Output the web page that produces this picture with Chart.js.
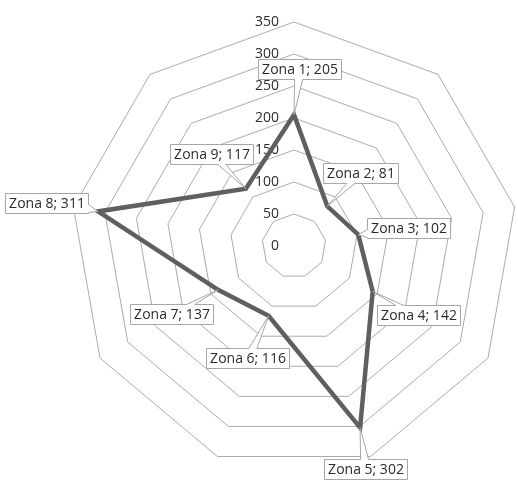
<!DOCTYPE html>
<html>
<head>
<meta charset="utf-8">
<script src="https://cdn.jsdelivr.net/npm/chart.js@4/dist/chart.umd.min.js"></script>
<style>
  html, body { margin: 0; padding: 0; background: #ffffff; }
  #wrap { width: 518px; height: 480px; overflow: hidden; }
</style>
</head>
<body>
<div id="wrap"><canvas id="radar" width="518" height="480"></canvas></div>
<script>
// Zones around the radar, clockwise from the top
const categories = ['Zona 1', 'Zona 2', 'Zona 3', 'Zona 4', 'Zona 5', 'Zona 6', 'Zona 7', 'Zona 8', 'Zona 9'];
const values = [205, 81, 102, 142, 302, 116, 137, 311, 117];
// Value-axis labels written down the vertical spoke
const tickValues = [0, 50, 100, 150, 200, 250, 300, 350];

// Where each value callout sits relative to its point (dx, dy in px)
const calloutOffsets = [
  [5.5, -45.5], [33.5, -33.5], [50.5, -6.5], [45.5, 23.5], [5, 41],
  [-21.5, 42.5], [-47, 24], [-51, -8], [-34, -34.5]
];

const FONT = '14px "Open Sans", "Liberation Sans", sans-serif';
const TEXT_COLOR = '#2b2b2b';
const GRID_COLOR = '#ababab';

// Value labels to the left of the vertical spoke, under the series line
const axisLabels = {
  id: 'axisLabels',
  beforeDatasetsDraw(chart) {
    const s = chart.scales.r;
    const ctx = chart.ctx;
    ctx.save();
    ctx.font = FONT;
    ctx.fillStyle = TEXT_COLOR;
    ctx.textAlign = 'right';
    ctx.textBaseline = 'middle';
    tickValues.forEach(v => {
      const y = s.yCenter - s.getDistanceFromCenterForValue(v);
      ctx.fillText(String(v), s.xCenter - 15, y);
    });
    ctx.restore();
  }
};

// Boxed "Zona N; value" callouts with a pointer toward each point
const callouts = {
  id: 'callouts',
  afterDatasetsDraw(chart) {
    const ctx = chart.ctx;
    const meta = chart.getDatasetMeta(0);
    ctx.save();
    ctx.font = FONT;
    meta.data.forEach((pt, i) => {
      const text = categories[i] + '; ' + values[i];
      const w = Math.round(ctx.measureText(text).width + 7);
      const h = 20;
      const cx = pt.x + calloutOffsets[i][0];
      const cy = pt.y + calloutOffsets[i][1];
      const L = Math.round(cx - w / 2) + 0.5, R = L + w;
      const T = Math.round(cy - h / 2) + 0.5, B = T + h;
      const px = pt.x, py = pt.y;
      const dx = px - (L + R) / 2, dy = py - (T + B) / 2;
      const tx = dx !== 0 ? (w / 2) / Math.abs(dx) : Infinity;
      const ty = dy !== 0 ? (h / 2) / Math.abs(dy) : Infinity;
      const t = Math.min(tx, ty);
      const ex = (L + R) / 2 + dx * t, ey = (T + B) / 2 + dy * t;
      const hw = 4;
      const clampX = x => Math.min(Math.max(x, L + hw + 1), R - hw - 1);
      const clampY = y => Math.min(Math.max(y, T + hw + 1), B - hw - 1);
      let edge;
      if (tx < ty) edge = dx > 0 ? 'right' : 'left';
      else edge = dy > 0 ? 'bottom' : 'top';

      ctx.beginPath();
      ctx.moveTo(L, T);
      if (edge === 'top') {
        const x = clampX(ex);
        ctx.lineTo(x - hw, T); ctx.lineTo(px, py); ctx.lineTo(x + hw, T);
      }
      ctx.lineTo(R, T);
      if (edge === 'right') {
        const y = clampY(ey);
        ctx.lineTo(R, y - hw); ctx.lineTo(px, py); ctx.lineTo(R, y + hw);
      }
      ctx.lineTo(R, B);
      if (edge === 'bottom') {
        const x = clampX(ex);
        ctx.lineTo(x + hw, B); ctx.lineTo(px, py); ctx.lineTo(x - hw, B);
      }
      ctx.lineTo(L, B);
      if (edge === 'left') {
        const y = clampY(ey);
        ctx.lineTo(L, y + hw); ctx.lineTo(px, py); ctx.lineTo(L, y - hw);
      }
      ctx.closePath();
      ctx.fillStyle = '#ffffff';
      ctx.fill();
      ctx.lineWidth = 1;
      ctx.strokeStyle = '#a6a6a6';
      ctx.stroke();

      ctx.fillStyle = TEXT_COLOR;
      ctx.textAlign = 'center';
      ctx.textBaseline = 'middle';
      ctx.fillText(text, (L + R) / 2, (T + B) / 2 + 1);
    });
    ctx.restore();
  }
};

new Chart(document.getElementById('radar'), {
  type: 'radar',
  data: {
    labels: categories,
    datasets: [{
      data: values,
      borderColor: '#5f5f5f',
      borderWidth: 4.5,
      borderJoinStyle: 'miter',
      fill: false,
      tension: 0,
      pointRadius: 0,
      pointHoverRadius: 0
    }]
  },
  options: {
    responsive: false,
    animation: false,
    devicePixelRatio: 1,
    layout: { padding: { left: 70, right: -8, top: 18, bottom: 6 } },
    plugins: {
      legend: { display: false },
      tooltip: { enabled: false },
      title: { display: false }
    },
    scales: {
      r: {
        min: 0,
        max: 350,
        ticks: { stepSize: 50, display: false },
        grid: { color: GRID_COLOR, lineWidth: 1 },
        angleLines: { display: false },
        pointLabels: { display: false }
      }
    }
  },
  plugins: [axisLabels, callouts]
});
</script>
</body>
</html>
